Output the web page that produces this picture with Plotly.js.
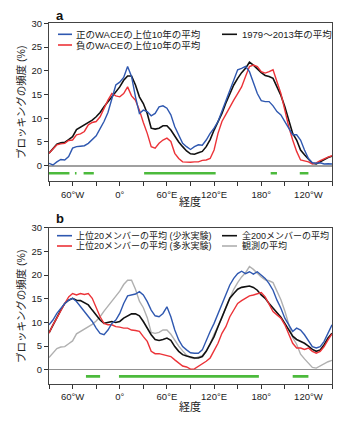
<!DOCTYPE html>
<html>
<head>
<meta charset="utf-8">
<script src="https://cdn.plot.ly/plotly-3.0.1.min.js"></script>
<style>html,body{margin:0;padding:0;background:#fff;}#chart{width:358px;height:421px;}</style>
</head>
<body>
<div id="chart"></div>
<script>
// Longitudes (degrees east; -90 = 90°W, 270 = 90°W again)
const LON = [-90,-85,-80,-75,-70,-65,-60,-55,-50,-45,-40,-35,-30,-25,-20,-15,-10,-5,0,5,10,15,20,25,30,35,40,45,50,55,60,65,70,75,80,85,90,95,100,105,110,115,120,125,130,135,140,145,150,155,160,165,170,175,180,185,190,195,200,205,210,215,220,225,230,235,240,245,250,255,260,265,270];

// Panel a
const obsMean = [2.6,3.6,4.5,4.8,4.9,5.5,6.1,7.6,8.1,8.6,9.1,9.6,10.3,11.2,12.4,13.5,14.5,15.6,16.6,18.0,18.9,18.9,17.0,14.5,13.1,11.0,7.9,7.7,7.9,8.4,8.4,7.5,6.1,5.0,4.0,3.1,2.5,2.4,2.7,3.0,4.0,5.5,7.5,9.3,11.0,13.2,15.2,17.0,18.4,19.6,20.5,21.8,21.2,20.3,19.6,19.0,18.8,18.4,16.6,14.8,12.4,9.5,6.8,5.4,3.3,2.3,1.5,0.5,0.35,0.8,1.3,1.7,2.0];
const posWACE = [0.5,0.15,0.8,1.3,1.2,1.9,3.7,4.0,4.1,4.2,4.7,5.4,6.3,7.8,9.3,11.2,14.0,17.0,17.6,18.6,20.9,18.8,14.5,11.0,11.7,11.4,10.5,11.0,12.4,12.6,12.1,10.7,8.2,6.5,4.7,4.0,3.4,4.0,4.4,4.3,5.4,6.8,7.9,9.3,11.4,13.5,16.0,18.0,20.2,20.5,20.9,19.8,17.4,15.2,13.7,13.5,13.5,12.6,11.4,10.7,9.3,7.9,6.5,6.5,5.4,3.3,1.5,0.6,0.5,0.6,0.35,0.4,0.35];
const negWACE = [2.6,3.4,4.4,4.6,4.7,5.3,5.4,6.5,6.7,7.2,8.6,9.1,9.3,10.3,12.1,13.8,15.2,14.7,14.5,15.2,16.6,14.7,13.8,11.7,9.1,6.8,4.0,3.7,4.7,5.4,5.8,5.1,2.6,1.5,0.8,0.7,0.7,0.8,0.8,1.1,1.2,1.5,3.3,6.8,9.3,10.8,12.4,13.8,15.2,16.6,18.8,20.9,21.2,20.9,19.8,19.5,19.8,20.2,17.7,15.2,11.7,8.2,5.4,3.0,1.2,1.0,0.8,0.35,0.6,1.05,1.5,1.8,2.1];

// Panel b
const lowIceTop20 = [9.5,10.5,11.9,13.0,14.0,14.7,15.1,14.4,13.3,12.3,11.2,10.2,8.8,7.7,7.4,8.4,9.8,10.5,11.9,14.0,15.6,15.8,16.0,16.5,15.8,14.4,12.6,11.4,11.2,11.9,13.3,11.2,8.4,6.3,4.9,4.2,3.6,3.5,3.5,4.2,6.3,8.1,9.8,11.9,14.0,15.8,17.9,19.3,20.3,20.8,20.3,20.7,20.2,20.7,20.0,19.3,18.2,16.8,14.7,13.0,10.9,9.5,8.1,8.8,8.4,7.4,6.0,4.9,4.6,4.9,6.0,7.7,9.5];
const highIceTop20 = [7.7,9.5,10.9,12.6,14.0,15.4,16.1,15.8,16.1,15.9,16.1,15.1,13.3,11.2,9.8,9.5,9.5,9.1,9.0,8.8,8.8,8.4,8.3,8.1,7.0,6.0,3.9,3.4,3.4,3.2,2.9,2.8,2.1,1.4,0.8,0.6,0.14,0.2,0.7,1.3,1.8,2.5,3.9,5.6,7.7,9.1,11.2,12.6,14.0,14.6,15.1,15.6,15.8,16.1,16.3,15.4,13.7,12.3,11.6,10.9,9.5,7.4,5.6,4.6,4.6,4.3,4.6,3.9,3.5,3.9,4.9,6.3,7.6];
const all200Mean = [7.8,9.5,11.2,12.6,14.0,14.7,15.1,14.7,14.6,14.2,13.7,12.6,11.6,10.5,9.8,10.0,10.2,10.0,10.2,10.9,11.4,11.8,11.8,11.4,10.2,8.8,7.4,6.4,6.2,6.4,6.7,6.2,4.9,3.9,3.2,2.9,2.7,2.5,2.5,2.8,3.9,5.3,7.0,9.1,11.2,13.3,15.1,16.1,17.0,17.4,17.5,17.7,17.4,16.8,15.8,15.1,14.0,13.0,11.9,11.1,9.8,8.4,7.1,6.4,6.0,5.6,5.0,4.3,3.9,4.2,5.3,6.7,7.7];

// Significance bars (longitude segments)
const sigA = [[-90,-64],[-57,-55],[-46,-33],[31,122],[192,200],[229,240]];
const sigB = [[-43,-25],[-1,177],[220,240]];
const sigLevelA = -1.6, sigLevelB = -1.4;

// Tick labels
const tickVals = [-90,-60,-30,0,30,60,90,120,150,180,210,240,270];
const tickText = ['','60°W','','0°','','60°E','','120°E','','180°','','120°W',''];

const legA = ['正のWACEの上位10年の平均','負のWACEの上位10年の平均','1979～2013年の平均'];
const legB = ['上位20メンバーの平均 (少氷実験)','上位20メンバーの平均 (多氷実験)','全200メンバーの平均','観測の平均'];
const yTitle = 'ブロッキングの頻度 (%)';
const xTitle = '経度';

const BLUE='#2f58b0', RED='#ec3338', BLACK='#111111', GRAY='#b0b0b0', GREEN='#4cba3c';
const FONT = "'Liberation Sans', Arial, 'Noto Sans CJK JP', sans-serif";
const W=358, H=421;
const px = x => x/W, py = y => 1 - y/H;

function segTrace(segs, level, xa, ya){
  const xs=[], ys=[];
  segs.forEach(s=>{ xs.push(s[0], s[1], null); ys.push(level, level, null); });
  return {x:xs, y:ys, xaxis:xa, yaxis:ya, mode:'lines', line:{color:GREEN, width:2.6}, showlegend:false, hoverinfo:'skip'};
}
function ln(y, color, xa, ya, w){ return {x:LON, y:y, xaxis:xa, yaxis:ya, mode:'lines', line:{color:color, width:w||1.4}, showlegend:false}; }

const traces = [
  ln(obsMean, BLACK, 'x', 'y', 1.6),
  ln(negWACE, RED, 'x', 'y'),
  ln(posWACE, BLUE, 'x', 'y'),
  segTrace(sigA, sigLevelA, 'x', 'y'),
  ln(obsMean, GRAY, 'x2', 'y2'),
  ln(all200Mean, BLACK, 'x2', 'y2', 1.6),
  ln(highIceTop20, RED, 'x2', 'y2'),
  ln(lowIceTop20, BLUE, 'x2', 'y2'),
  segTrace(sigB, sigLevelB, 'x2', 'y2')
];

const xbase = {range:[-90,270], tickvals:tickVals, ticktext:tickText, ticks:'outside', ticklen:4, tickcolor:'#333', tickwidth:1,
  showline:true, mirror:true, linecolor:'#444', linewidth:1, showgrid:false, zeroline:false, domain:[px(49), px(332)],
  tickfont:{family:FONT, size:9.5, color:'#222'}, fixedrange:true};
const ybase = {tickvals:[0,5,10,15,20,25,30], ticks:'outside', ticklen:4, tickcolor:'#333', tickwidth:1,
  showline:true, mirror:true, linecolor:'#444', linewidth:1, showgrid:false, zeroline:true,
  tickfont:{family:FONT, size:9.5, color:'#222'}, fixedrange:true};

const shapes=[], ann=[];
function legLine(x0,x1,y,color){ shapes.push({type:'line', xref:'paper', yref:'paper', x0:px(x0), x1:px(x1), y0:py(y), y1:py(y), line:{color:color, width:1.6}}); }
function txt(t,x,y,opt){ ann.push(Object.assign({text:t, xref:'paper', yref:'paper', x:px(x), y:py(y), showarrow:false, xanchor:'left', yanchor:'middle', font:{family:FONT, size:9.5, color:'#222'}}, opt||{})); }

// Panel a legend
legLine(58,72,34.3,BLUE); txt(legA[0],74,34.3);
legLine(58,72,45,RED); txt(legA[1],74,45);
legLine(222,237,34.3,BLACK); txt(legA[2],240,34.3);
// Panel b legend
const fB = {family:FONT, size:9, color:'#222'};
legLine(57,72,235.7,BLUE); txt(legB[0],74,235.7,{font:fB});
legLine(57,72,246,RED); txt(legB[1],74,246,{font:fB});
legLine(222,237,235.7,BLACK); txt(legB[2],240,235.7,{font:fB});
legLine(222,237,246,GRAY); txt(legB[3],240,246,{font:fB});

// Panel labels
txt('<b>a</b>',54,15.5,{font:{family:FONT,size:13,color:'#111'}});
txt('<b>b</b>',54,219,{font:{family:FONT,size:13,color:'#111'}});
// Axis titles
txt(yTitle,21,103,{xanchor:'center', textangle:-90, font:{family:FONT,size:10.5,color:'#222'}});
txt(yTitle,21,307,{xanchor:'center', textangle:-90, font:{family:FONT,size:10.5,color:'#222'}});
txt(xTitle,190.5,202,{xanchor:'center', font:{family:FONT,size:11,color:'#222'}});
txt(xTitle,190.5,407,{xanchor:'center', font:{family:FONT,size:11,color:'#222'}});

const layout = {
  width:W, height:H, margin:{l:0,r:0,t:0,b:0}, paper_bgcolor:'#fff', plot_bgcolor:'#fff', showlegend:false,
  font:{family:FONT},
  xaxis:Object.assign({}, xbase, {anchor:'y'}),
  yaxis:Object.assign({}, ybase, {anchor:'x', range:[-3.3,30], domain:[py(181.3), py(23.3)], zerolinecolor:'#a0a0a0', zerolinewidth:1.8}),
  xaxis2:Object.assign({}, xbase, {anchor:'y2'}),
  yaxis2:Object.assign({}, ybase, {anchor:'x2', range:[-3.0,30], domain:[py(384), py(227.7)], zerolinecolor:'#909090', zerolinewidth:1.1}),
  shapes:shapes, annotations:ann
};

Plotly.newPlot('chart', traces, layout, {staticPlot:true, displayModeBar:false});
</script>
</body>
</html>
